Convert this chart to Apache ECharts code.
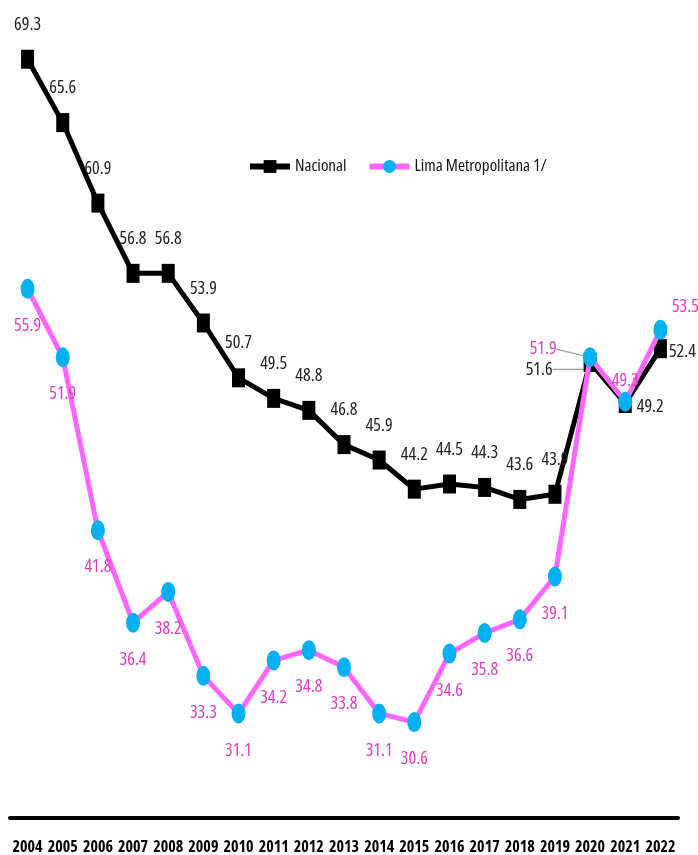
<!DOCTYPE html>
<html>
<head>
<meta charset="utf-8">
<script src="https://cdn.jsdelivr.net/npm/echarts@6/dist/echarts.min.js"></script>
<style>html,body{margin:0;padding:0;background:#fff}#c{width:698px;height:855px}</style>
</head>
<body>
<div id="c"></div>
<script>
const years = ['2004','2005','2006','2007','2008','2009','2010','2011','2012','2013','2014','2015','2016','2017','2018','2019','2020','2021','2022'];
const nacional = [69.3, 65.6, 60.9, 56.8, 56.8, 53.9, 50.7, 49.5, 48.8, 46.8, 45.9, 44.2, 44.5, 44.3, 43.6, 43.9, 51.6, 49.2, 52.4];
const lima = [55.9, 51.9, 41.8, 36.4, 38.2, 33.3, 31.1, 34.2, 34.8, 33.8, 31.1, 30.6, 34.6, 35.8, 36.6, 39.1, 51.9, 49.3, 53.5];
const seriesNames = ['Nacional', 'Lima Metropolitana 1/'];

const FONT = '"Open Sans", "DejaVu Sans Condensed", sans-serif';
const leader = { show: true, length2: 0, smooth: 0.4, lineStyle: { color: '#A6A6A6', width: 1.5 } };

const nacData = nacional.map((v, i) => {
  const d = { value: v };
  if (i === 16) { d.label = { position: 'inside' }; d.labelLine = leader; }
  if (i === 17 || i === 18) d.label = { position: 'right', distance: 5 };
  return d;
});
const limaData = lima.map((v, i) => {
  const d = { value: v };
  if (i === 16) { d.label = { position: 'inside' }; d.labelLine = leader; }
  if (i === 17 || i === 18) d.label = { position: 'top', distance: 2 };
  return d;
});

const chart = echarts.init(document.getElementById('c'), null, { renderer: 'canvas' });
chart.setOption({
  animation: false,
  backgroundColor: '#ffffff',
  grid: { left: 10, right: 20, top: 13, bottom: 30, containLabel: false },
  legend: {
    left: 242, top: 153, padding: 5,
    itemWidth: 40, itemHeight: 16, itemGap: 20,
    lineStyle: { width: 6 },
    textStyle: { fontFamily: FONT, fontWeight: 'condensed', fontSize: 17, color: '#111' },
    data: seriesNames
  },
  xAxis: {
    type: 'category', data: years, boundaryGap: true,
    axisLine: { show: true, lineStyle: { color: '#000', width: 4 } },
    axisTick: { show: false },
    axisLabel: { fontFamily: FONT, fontSize: 16, fontWeight: 'bold condensed', color: '#000', margin: 21, interval: 0 }
  },
  yAxis: { type: 'value', min: 25, max: 72, show: false, splitLine: { show: false } },
  series: [
    {
      name: seriesNames[0], type: 'line', data: nacData,
      symbol: 'rect', symbolSize: [13, 19],
      lineStyle: { color: '#000', width: 5 },
      itemStyle: { color: '#000' },
      label: { show: true, position: 'top', distance: 16, fontFamily: FONT, fontWeight: 'condensed', fontSize: 18, color: '#222', formatter: p => p.value.toFixed(1) },
      labelLayout: p => {
        if (p.dataIndex === 16) return { dx: -51, dy: 7 };
        if (p.dataIndex === 17) return { dy: 3 };
        if (p.dataIndex === 18) return { dx: -3, dy: 3 };
        return null;
      },
      z: 2
    },
    {
      name: seriesNames[1], type: 'line', data: limaData,
      symbol: 'circle', symbolSize: [14, 20],
      lineStyle: { color: '#FF66FF', width: 5 },
      itemStyle: { color: '#00B0F0' },
      label: { show: true, position: 'bottom', distance: 18, fontFamily: FONT, fontWeight: 'condensed', fontSize: 18, color: '#E03CC0', formatter: p => p.value.toFixed(1) },
      labelLayout: p => {
        if (p.dataIndex === 16) return { dx: -47, dy: -8 };
        if (p.dataIndex === 18) return { dx: 25, dy: -2 };
        return null;
      },
      z: 3
    }
  ]
});
</script>
</body>
</html>
